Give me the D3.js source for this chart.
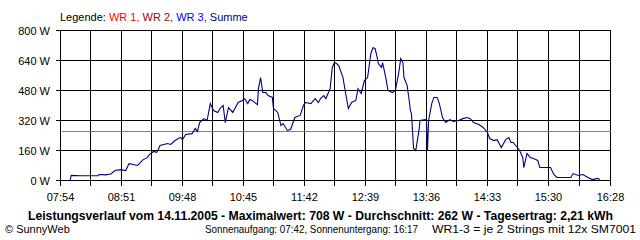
<!DOCTYPE html>
<html>
<head>
<meta charset="utf-8">
<script src="https://cdn.jsdelivr.net/npm/d3@7"></script>
<style>
  body { margin: 0; background: #fff; }
  svg { display: block; font-family: "Liberation Sans", Arial, sans-serif; font-size: 11px; }
</style>
</head>
<body>
<svg width="640" height="240"></svg>
<script>
// Summe (W) over the day
const times = ['08:03','08:04','08:13','08:22','08:29','08:30','08:36','08:41','08:45','08:50','08:55','08:58','09:02','09:06','09:11','09:15','09:17','09:21','09:24','09:27','09:34','09:37','09:41','09:46','09:48','09:51','09:57','10:00','10:02','10:04','10:08','10:11','10:14','10:17','10:21','10:23','10:26','10:28','10:31','10:35','10:40','10:44','10:46','10:49','10:51','10:53','10:58','10:59','11:01','11:03','11:06','11:08','11:12','11:13','11:17','11:20','11:22','11:26','11:29','11:33','11:38','11:41','11:43','11:48','11:52','11:55','11:57','12:00','12:02','12:04','12:06','12:08','12:10','12:12','12:14','12:18','12:20','12:23','12:26','12:30','12:32','12:35','12:38','12:41','12:44','12:46','12:48','12:50','12:51','12:54','12:55','12:58','13:00','13:04','13:07','13:10','13:12','13:14','13:15','13:18','13:20','13:21','13:22','13:24','13:26','13:29','13:30','13:35','13:36','13:37','13:38','13:41','13:43','13:46','13:48','13:51','13:54','13:58','14:01','14:06','14:10','14:14','14:17','14:20','14:25','14:29','14:33','14:35','14:39','14:42','14:46','14:50','14:53','14:55','14:57','15:01','15:03','15:06','15:07','15:10','15:13','15:16','15:20','15:22','15:25','15:32','15:35','15:38','15:48','15:51','15:53','15:58','16:02','16:07','16:11','16:16','16:18'];
const summe = [0,27,25,25,25,32,30,35,53,58,53,90,85,80,110,122,138,155,150,187,197,192,213,230,218,245,250,277,262,309,330,320,410,373,363,384,400,309,389,363,416,427,437,410,432,427,405,490,549,469,469,453,443,384,363,293,304,267,272,336,347,400,416,410,437,416,437,453,437,464,490,603,629,624,613,549,480,384,416,427,490,464,533,549,677,708,704,656,624,603,629,549,480,469,480,571,651,629,549,506,420,373,357,171,160,267,320,325,320,160,320,411,443,443,411,336,309,325,315,320,330,336,330,309,299,283,256,224,213,218,176,218,229,203,203,176,160,123,69,144,123,117,107,69,69,69,32,16,16,16,37,27,32,16,5,11,5];

const xTickLabels = ['07:54','08:51','09:48','10:45','11:42','12:39','13:36','14:33','15:30','16:28'];
const yTickValues = [0, 160, 320, 480, 640, 800];
const average = 262;

const legendParts = [
  { text: 'Legende: ', color: '#000000' },
  { text: 'WR 1, ', color: '#ff0000' },
  { text: 'WR 2, ', color: '#a00000' },
  { text: 'WR 3, ', color: '#0000ff' },
  { text: 'Summe', color: '#000080' }
];
const title = 'Leistungsverlauf vom 14.11.2005 - Maximalwert: 708 W - Durchschnitt: 262 W - Tagesertrag: 2,21 kWh';
const footLeft = '\u00a9 SunnyWeb';
const footMid = 'Sonnenaufgang: 07:42, Sonnenuntergang: 16:17';
const footRight = 'WR1-3 = je 2 Strings mit 12x SM7001';

const parseTime = d3.timeParse('%H:%M');
const data = times.map((t, i) => ({ t: parseTime(t), w: summe[i] }));

const svg = d3.select('svg');

const x = d3.scaleTime()
  .domain([parseTime(xTickLabels[0]), parseTime(xTickLabels[xTickLabels.length - 1])])
  .range([60.5, 610.5]);
const y = d3.scaleLinear().domain([0, 800]).range([180.5, 30.5]);

// grid positions: every label plus the midpoints between them
const labelDates = xTickLabels.map(parseTime);
const gridDates = [];
labelDates.forEach((d, i) => {
  gridDates.push(d);
  if (i < labelDates.length - 1) gridDates.push(new Date((+d + +labelDates[i + 1]) / 2));
});

const grid = svg.append('g').attr('shape-rendering', 'crispEdges').attr('stroke', '#000');

grid.selectAll('line.v')
  .data(gridDates)
  .enter()
  .append('line')
  .attr('class', 'v')
  .attr('x1', (d) => Math.round(x(d) - 0.5) + 0.5)
  .attr('x2', (d) => Math.round(x(d) - 0.5) + 0.5)
  .attr('y1', y(800))
  .attr('y2', y(0) + 5);

grid.selectAll('line.h')
  .data(yTickValues)
  .enter()
  .append('line')
  .attr('class', 'h')
  .attr('x1', x.range()[0] - 5)
  .attr('x2', x.range()[1])
  .attr('y1', (d) => y(d))
  .attr('y2', (d) => y(d));

// average line
svg.append('line')
  .attr('shape-rendering', 'crispEdges')
  .attr('stroke', '#808080')
  .attr('x1', x.range()[0] + 1)
  .attr('x2', x.range()[1])
  .attr('y1', Math.round(y(average) - 0.5) + 0.5)
  .attr('y2', Math.round(y(average) - 0.5) + 0.5);

// y labels
svg.append('g')
  .selectAll('text')
  .data(yTickValues)
  .enter()
  .append('text')
  .attr('x', 50)
  .attr('y', (d) => y(d) + 4)
  .attr('text-anchor', 'end')
  .text((d) => d + ' W');

// x labels
svg.append('g')
  .selectAll('text')
  .data(labelDates)
  .enter()
  .append('text')
  .attr('x', (d) => x(d))
  .attr('y', 201)
  .attr('text-anchor', 'middle')
  .text((d, i) => xTickLabels[i]);

// the Summe line
const line = d3.line()
  .x((d) => x(d.t))
  .y((d) => y(d.w));

svg.append('path')
  .datum(data)
  .attr('d', line)
  .attr('fill', 'none')
  .attr('stroke', '#000080')
  .attr('stroke-width', 1.1);

// legend
const legend = svg.append('text').attr('x', 60).attr('y', 21).attr('xml:space', 'preserve');
legendParts.forEach((p) => {
  legend.append('tspan').attr('fill', p.color).text(p.text);
});

svg.append('text')
  .attr('x', 28)
  .attr('y', 220)
  .attr('font-weight', 'bold')
  .attr('font-size', '12px')
  .attr('textLength', 585)
  .attr('lengthAdjust', 'spacingAndGlyphs')
  .text(title);

svg.append('text').attr('x', 5).attr('y', 233).text(footLeft);
svg.append('text').attr('x', 205).attr('y', 233).attr('textLength', 213).attr('lengthAdjust', 'spacingAndGlyphs').text(footMid);
svg.append('text').attr('x', 432).attr('y', 233).attr('textLength', 204).attr('lengthAdjust', 'spacingAndGlyphs').text(footRight);
</script>
</body>
</html>
